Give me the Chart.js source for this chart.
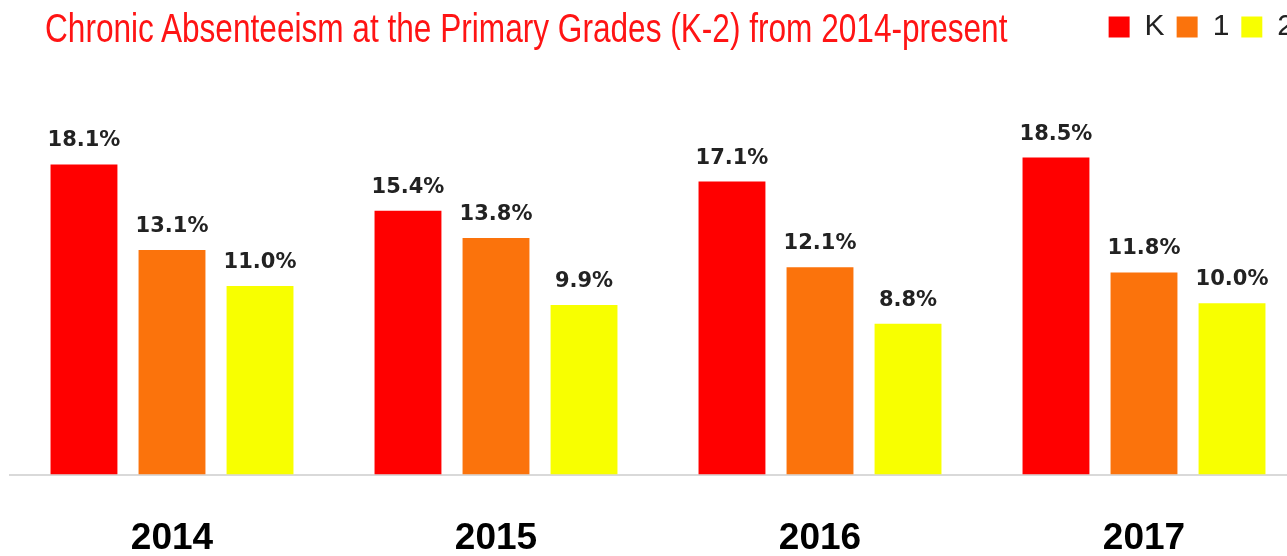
<!DOCTYPE html>
<html>
<head>
<meta charset="utf-8">
<script src="https://cdn.jsdelivr.net/npm/chart.js@4/dist/chart.umd.min.js"></script>
<style>
  html, body { margin: 0; padding: 0; background: #fff; overflow: hidden; }
  #wrap { position: relative; width: 1312px; height: 595px; }
  #title {
    position: absolute; left: 45px; top: 8px;
    font-family: "Liberation Sans", sans-serif;
    font-size: 40px; line-height: 1; color: #ff1414; white-space: nowrap; z-index: 2;
    transform: scaleX(0.79); transform-origin: left top;
  }
</style>
</head>
<body>
<div id="wrap">
  <div id="title">Chronic Absenteeism at the Primary Grades (K-2) from 2014-present</div>
  <canvas id="chartBar"></canvas>
</div>
<script>
// years on the x axis
var years = ['2014', '2015', '2016', '2017'];
// percent chronically absent, by grade
var gradeK = [18.1, 15.4, 17.1, 18.5];
var grade1 = [13.1, 13.8, 12.1, 11.8];
var grade2 = [11.0, 9.9, 8.8, 10.0];

// value labels above each bar
var barLabels = {
    id: 'barLabels',
    afterDatasetsDraw: function (chart) {
        var ctx = chart.ctx;
        ctx.save();
        ctx.font = 'bold 21px "DejaVu Sans"';
        ctx.fillStyle = '#222';
        ctx.textAlign = 'center';
        ctx.textBaseline = 'alphabetic';
        chart.data.datasets.forEach(function (ds, i) {
            chart.getDatasetMeta(i).data.forEach(function (bar, j) {
                ctx.fillText(ds.data[j].toFixed(1) + '%', bar.x, bar.y - 18);
            });
        });
        ctx.restore();
    }
};

var cv = document.getElementById('chartBar');
cv.width = 1312;
cv.height = 595;

var barChart = new Chart(cv, {
    type: 'bar',
    data: {
        labels: years,
        datasets: [
            { label: 'K', data: gradeK, backgroundColor: '#ff0000' },
            { label: '1', data: grade1, backgroundColor: '#fb730c' },
            { label: '2', data: grade2, backgroundColor: '#f8ff00' }
        ]
    },
    options: {
        responsive: false,
        animation: false,
        layout: { padding: { left: 10, right: 6, top: 0, bottom: 0 } },
        datasets: {
            bar: { categoryPercentage: 0.815, barPercentage: 0.76 }
        },
        scales: {
            y: { display: false, min: 0, max: 24.66 },
            x: {
                grid: { display: false },
                border: { color: '#d9d9d9', width: 2 },
                ticks: {
                    color: '#000',
                    padding: 34,
                    font: { family: '"Liberation Sans"', weight: 'bold', size: 37 }
                }
            }
        },
        plugins: {
            tooltip: { enabled: false },
            legend: {
                position: 'top',
                align: 'end',
                labels: {
                    boxWidth: 21,
                    boxHeight: 21,
                    padding: 12,
                    color: '#222',
                    font: { family: '"Liberation Sans"', size: 30 }
                }
            }
        }
    },
    plugins: [barLabels]
});
</script>
</body>
</html>
